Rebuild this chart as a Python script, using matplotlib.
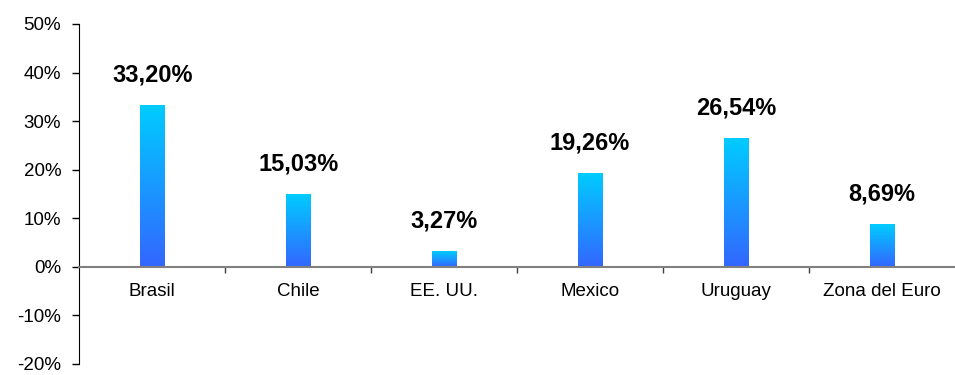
import numpy as np
import matplotlib
matplotlib.use("Agg")
import matplotlib.pyplot as plt
from matplotlib.colors import LinearSegmentedColormap

plt.rcParams["font.family"] = ["Liberation Sans", "DejaVu Sans"]

# data
categories = ["Brasil", "Chile", "EE. UU.", "Mexico", "Uruguay", "Zona del Euro"]
values = [33.20, 15.03, 3.27, 19.26, 26.54, 8.69]
y_ticks = [-20, -10, 0, 10, 20, 30, 40, 50]

fig = plt.figure(figsize=(9.55, 3.75), dpi=100)
ax = fig.add_axes([0.083, 0.03, 0.917, 0.906])

x = np.arange(len(categories))
bar_w = 0.17
grad = LinearSegmentedColormap.from_list("bar", ["#3366ff", "#00ccff"])
gradient = np.linspace(0, 1, 256).reshape(-1, 1)

bars = ax.bar(x, values, width=bar_w, color="none", edgecolor="none", zorder=2)
for rect, v in zip(bars, values):
    x0 = rect.get_x()
    ax.imshow(gradient, cmap=grad, aspect="auto", origin="lower",
              extent=(x0, x0 + bar_w, 0, v), zorder=2, interpolation="bicubic")
    ax.annotate(f"{v:.2f}%".replace(".", ","), (rect.get_x() + bar_w / 2, v),
                xytext=(0, 17), textcoords="offset points",
                ha="center", va="baseline", fontsize=17, fontweight="bold")

ax.set_xlim(-0.5, len(categories) - 0.5)
ax.set_ylim(-20, 50)
ax.set_yticks(y_ticks)
ax.set_yticklabels([f"{t}%" for t in y_ticks])
ax.tick_params(axis="y", labelsize=13.5, length=5, width=1, pad=8)

ax.spines["top"].set_visible(False)
ax.spines["right"].set_visible(False)
ax.spines["bottom"].set_position(("data", 0))
ax.spines["bottom"].set_color("#808080")
ax.spines["bottom"].set_linewidth(1.5)
ax.spines["bottom"].set_zorder(3)

ax.set_xticks(x)
ax.set_xticklabels(categories)
ax.set_xticks(np.arange(0.5, len(categories) - 1), minor=True)
ax.tick_params(axis="x", which="major", length=0, labelsize=13.5, pad=12)
ax.tick_params(axis="x", which="minor", length=4, width=1, color="#404040")

fig.savefig("out.png", dpi=100)
